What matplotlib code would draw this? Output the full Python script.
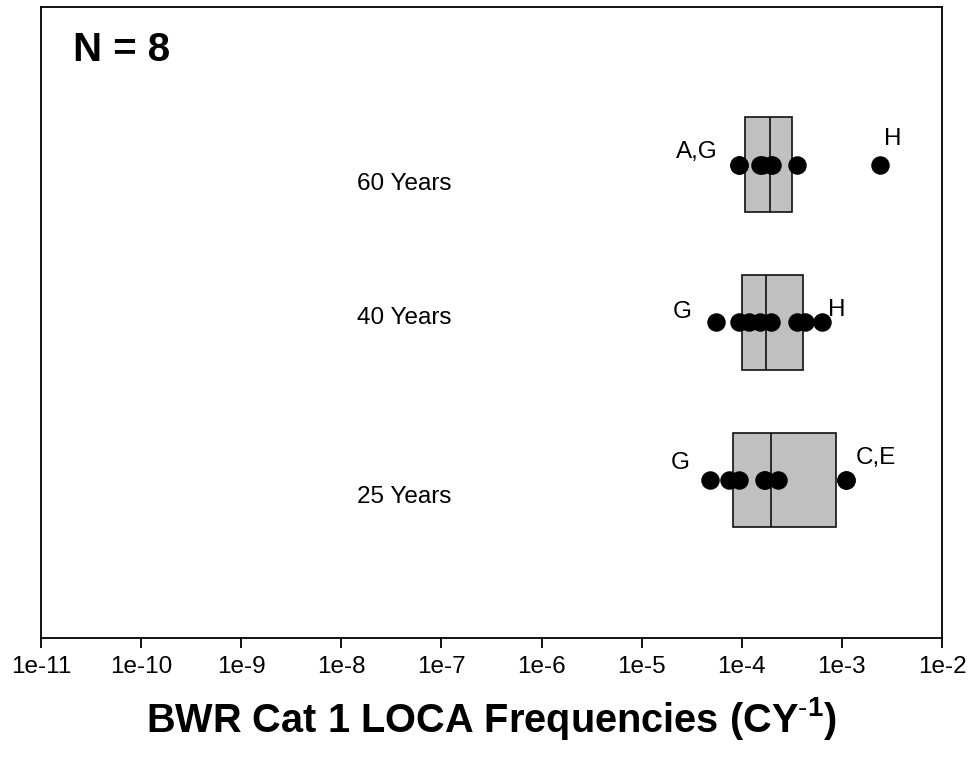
import numpy as np
import matplotlib as mpl
mpl.use('Agg')
import matplotlib.pyplot as plt

plt.rcParams['font.family'] = ['Liberation Sans', 'DejaVu Sans']
plt.rcParams['mathtext.fontset'] = 'custom'
plt.rcParams['mathtext.bf'] = 'Liberation Sans:bold'
plt.rcParams['mathtext.rm'] = 'Liberation Sans'

# data
periods = ['25 Years', '40 Years', '60 Years']
rows = [1, 2, 3]
q1 = [8.15e-5, 1.01e-4, 1.08e-4]
med = [1.94e-4, 1.74e-4, 1.92e-4]
q3 = [8.65e-4, 4.08e-4, 3.14e-4]
pts25 = [4.77e-5, 7.53e-5, 9.48e-5, 1.67e-4, 1.70e-4, 2.28e-4, 1.09e-3, 1.09e-3]
pts40 = [5.47e-5, 9.48e-5, 1.19e-4, 1.53e-4, 1.97e-4, 3.56e-4, 4.31e-4, 6.37e-4]
pts60 = [9.35e-5, 9.35e-5, 1.53e-4, 1.60e-4, 1.95e-4, 2.0e-4, 3.56e-4, 2.42e-3]
tick_vals = [1e-11, 1e-10, 1e-9, 1e-8, 1e-7, 1e-6, 1e-5, 1e-4, 1e-3, 1e-2]
tick_labels = ['1e-11', '1e-10', '1e-9', '1e-8', '1e-7', '1e-6', '1e-5', '1e-4', '1e-3', '1e-2']

# point labels: (text, x, y, ha)
pt_labels = [('A,G', 5.8e-5, 3.08, 'right'), ('H', 2.65e-3, 3.16, 'left'),
             ('G', 3.2e-5, 2.065, 'right'), ('H', 7.3e-4, 2.08, 'left'),
             ('G', 3.05e-5, 1.11, 'right'), ('C,E', 1.36e-3, 1.14, 'left')]
year_y = [0.89, 2.03, 2.88]

fig = plt.figure(figsize=(9.72, 7.62), dpi=100)
ax = fig.add_axes([41/972, 1-637.7/762, 901/972, 630.7/762])

stats = []
for i in range(3):
    stats.append({'med': med[i], 'q1': q1[i], 'q3': q3[i],
                  'whislo': q1[i], 'whishi': q3[i], 'fliers': []})
ax.bxp(stats, positions=rows, widths=0.6, vert=False, patch_artist=True,
       showcaps=False, showfliers=False,
       boxprops=dict(facecolor='#c0c0c0', edgecolor='#111111', linewidth=1.2),
       medianprops=dict(color='#111111', linewidth=1.2),
       whiskerprops=dict(linewidth=0))

for r, pts in zip(rows, [pts25, pts40, pts60]):
    ax.plot(pts, [r]*len(pts), 'o', color='black', markersize=12.3, zorder=5)

for txt, x, y, ha in pt_labels:
    ax.text(x, y, txt, ha=ha, va='center', fontsize=17.5)

for lab, y in zip(periods, year_y):
    ax.text(1.43e-8, y, lab, ha='left', va='center', fontsize=17.5)

ax.text(0.0355, 0.932, 'N = 8', transform=ax.transAxes, ha='left', va='center',
        fontsize=29, fontweight='bold')

ax.set_xscale('log')
ax.set_xlim(1e-11, 1e-2)
ax.set_ylim(0, 4)
ax.set_xticks(tick_vals)
ax.set_xticklabels(tick_labels, fontsize=17.5)
ax.minorticks_off()
ax.set_yticks([])
ax.tick_params(axis='x', direction='out', length=7, width=1.3, pad=6)
for s in ax.spines.values():
    s.set_linewidth(1.3)

fig.text(491.5/972, 1-718/762, r'BWR Cat 1 LOCA Frequencies (CY$^{\mathbf{\text{-}1}}$)',
         ha='center', va='center', fontsize=28.6, fontweight='bold')

plt.savefig('out.png', dpi=100)
